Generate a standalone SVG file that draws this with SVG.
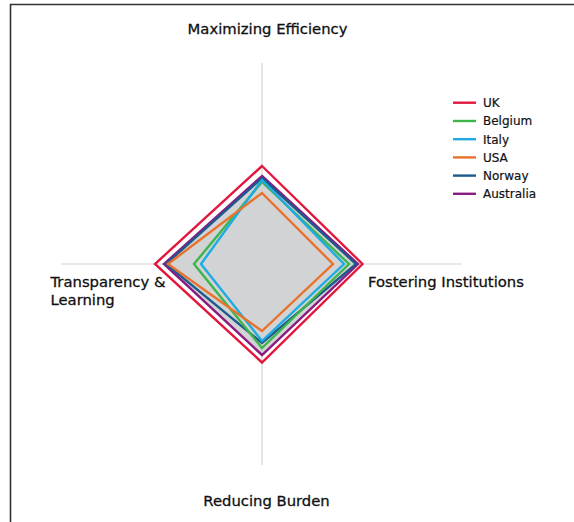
<svg xmlns="http://www.w3.org/2000/svg" width="574" height="522" viewBox="0 0 574 522">
<style>
.lbl{font-family:"DejaVu Sans",sans-serif;font-size:14.8px;fill:#111;stroke:#111;stroke-width:0.3}
.leg{font-family:"DejaVu Sans",sans-serif;font-size:12px;fill:#111;stroke:#111;stroke-width:0.2}
.axis{stroke:#d3d3d3;stroke-width:1.2;fill:none}
.s{fill:none;stroke-width:2.4;stroke-linejoin:miter}
.uk{stroke:#e3173e}.be{stroke:#3db54a}.it{stroke:#1eabe3}.us{stroke:#e8722b}.no{stroke:#1c5a8e}.au{stroke:#8a1b80}
</style>
<rect width="574" height="522" fill="#fff"/>
<path d="M10.5 530 V4.5 H580" fill="none" stroke="#333" stroke-width="1.6"/>
<g id="axes">
<line class="axis" x1="262" y1="63" x2="262" y2="465"/>
<line class="axis" x1="61" y1="264" x2="462" y2="264"/>
</g>
<g id="area">
<polygon points="262,176 358,264 262,355 164,264" fill="#d1d3d4"/>
</g>
<g id="series">
<polygon id="UK" class="s uk" points="262,166 362.5,264 262,362.5 155,264"/>
<polygon id="Australia" class="s au" points="262,176 358,264 262,355 164,264"/>
<polygon id="Norway" class="s no" points="262,178 356,264 262,343 166,264"/>
<polygon id="Belgium" class="s be" points="262,182 349,264 262,348 194,264"/>
<polygon id="Italy" class="s it" points="262,180 344,264 262,341 201,264"/>
<polygon id="USA" class="s us" points="262,193 333,264 262,331 168,264"/>
</g>
<g id="axis-labels">
<text class="lbl" x="267.5" y="34" text-anchor="middle">Maximizing Efficiency</text>
<text class="lbl" x="368" y="287">Fostering Institutions</text>
<text class="lbl" x="266.5" y="506" text-anchor="middle">Reducing Burden</text>
<text class="lbl" x="50.5" y="287">Transparency &amp;</text>
<text class="lbl" x="50.5" y="305">Learning</text>
</g>
<g id="legend">
<line class="s uk" x1="453" y1="102.7" x2="476" y2="102.7"/><text class="leg" x="483" y="107">UK</text>
<line class="s be" x1="453" y1="121" x2="476" y2="121"/><text class="leg" x="483" y="125.3">Belgium</text>
<line class="s it" x1="453" y1="139.2" x2="476" y2="139.2"/><text class="leg" x="483" y="143.5">Italy</text>
<line class="s us" x1="453" y1="157.4" x2="476" y2="157.4"/><text class="leg" x="483" y="161.7">USA</text>
<line class="s no" x1="453" y1="175.6" x2="476" y2="175.6"/><text class="leg" x="483" y="179.9">Norway</text>
<line class="s au" x1="453" y1="193.8" x2="476" y2="193.8"/><text class="leg" x="483" y="198.1">Australia</text>
</g>
</svg>
